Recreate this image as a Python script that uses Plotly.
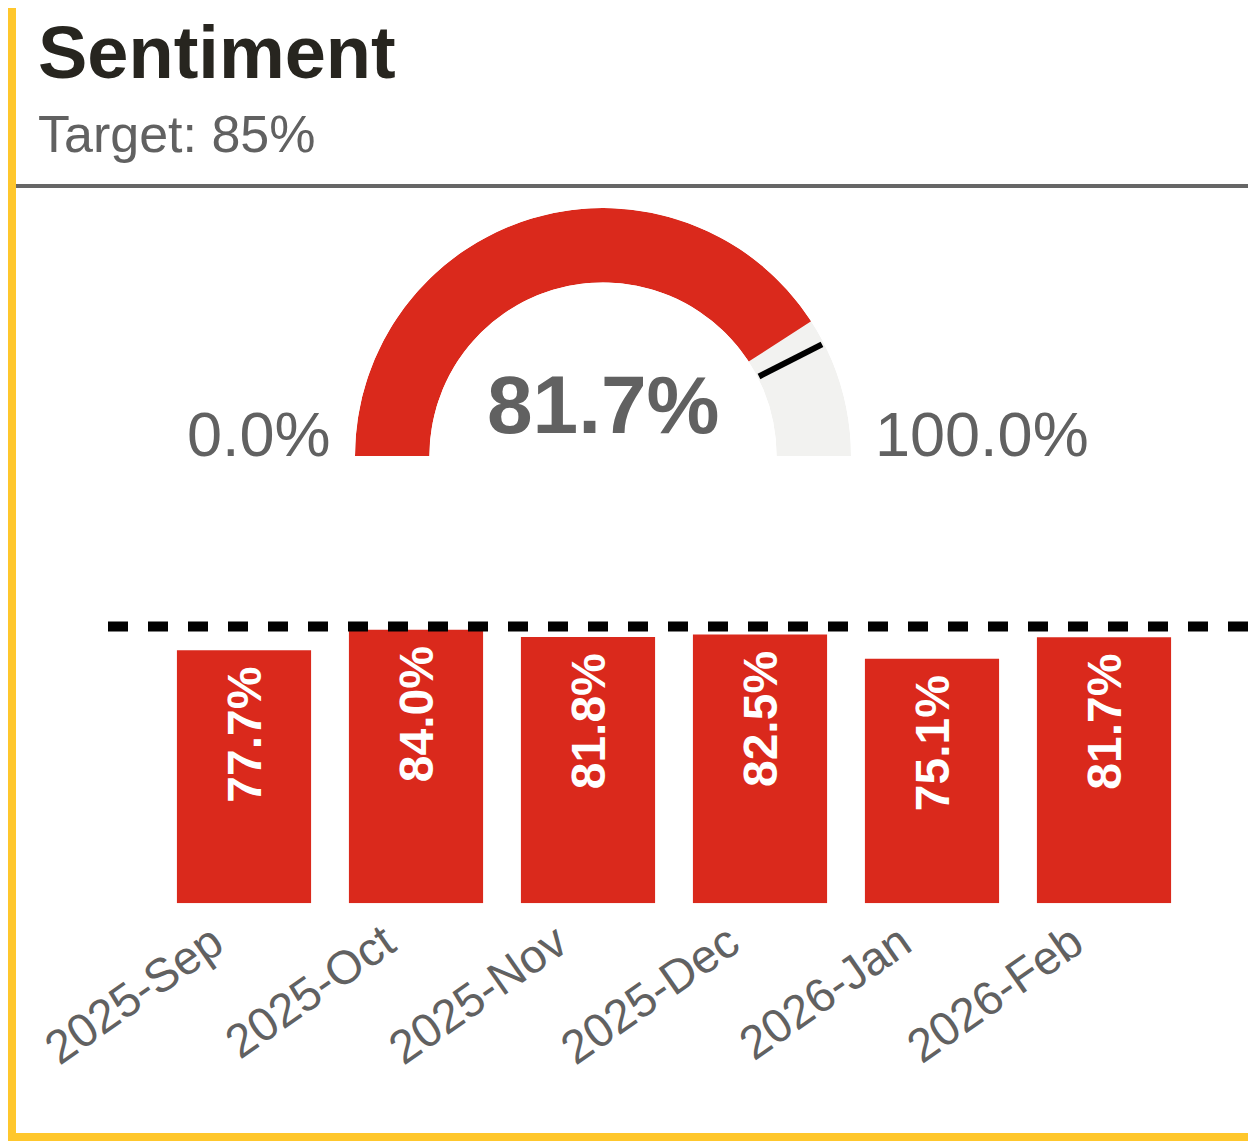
import plotly.graph_objects as go

# ---- data ----
months = ["2025-Sep", "2025-Oct", "2025-Nov", "2025-Dec", "2026-Jan", "2026-Feb"]
sentiment = [77.7, 84.0, 81.8, 82.5, 75.1, 81.7]
target = 85
gauge_min = 0
gauge_max = 100
title_text = "Sentiment"
subtitle_text = f"Target: {target}%"

# ---- style ----
OFF = 8  # page body margin
W, H = 1256 - OFF, 1141 - OFF
RED = "#DA291C"
YELLOW = "#FFC72C"
DARK = "#27251F"
GREY = "#616161"
GAUGE_BG = "#F2F2F0"
FONT = "Liberation Sans, Arial, sans-serif"


def px(x):
    return (x - OFF) / W


def py(y):
    return 1 - (y - OFF) / H


current = sentiment[-1]
span = gauge_max - gauge_min
deg_per_unit = 180.0 / span

fig = go.Figure()

# gauge background (full half ring)
fig.add_trace(go.Barpolar(
    r=[1], theta=[90], width=[180], base=0,
    marker=dict(color=GAUGE_BG, line=dict(width=0)),
    hoverinfo="skip", showlegend=False, subplot="polar",
))
# gauge value
val_deg = (current - gauge_min) * deg_per_unit
fig.add_trace(go.Barpolar(
    r=[1], theta=[val_deg / 2], width=[val_deg], base=0,
    marker=dict(color=RED, line=dict(width=0)),
    hoverinfo="skip", showlegend=False, subplot="polar",
))
# threshold marker
thr_deg = (target - gauge_min) * deg_per_unit
fig.add_trace(go.Scatterpolar(
    r=[0.02, 0.97], theta=[thr_deg, thr_deg], mode="lines",
    line=dict(color="black", width=6),
    hoverinfo="skip", showlegend=False, subplot="polar",
))

# monthly bars
fig.add_trace(go.Bar(
    x=months, y=sentiment,
    marker=dict(color=RED, line=dict(width=0)),
    width=0.78,
    texttemplate="%{y:.1f}%\u00a0",
    textposition="inside",
    insidetextanchor="end",
    textangle=-90,
    textfont=dict(family=FONT, size=48, color="white", weight="bold"),
    showlegend=False,
    hoverinfo="skip",
))

fig.update_layout(
    width=W, height=H,
    margin=dict(l=0, r=0, t=0, b=0, autoexpand=False),
    paper_bgcolor="white",
    plot_bgcolor="white",
    font=dict(family=FONT, color=GREY),
    polar=dict(
        domain=dict(x=[px(355), px(851)], y=[py(456), py(208)]),
        sector=[0, 180],
        hole=0.70,
        bgcolor="rgba(0,0,0,0)",
        angularaxis=dict(rotation=180, direction="clockwise", showline=False,
                         showgrid=False, showticklabels=False, ticks=""),
        radialaxis=dict(range=[0, 1], showline=False, showgrid=False,
                        showticklabels=False, ticks=""),
    ),
    xaxis=dict(
        domain=[px(158), px(1190)],
        range=[-0.5, len(months) - 0.5],
        tickangle=-35,
        tickfont=dict(family=FONT, size=47, color=GREY),
        ticklabelshift=-31,
        ticklabelstandoff=2,
        showline=False, showgrid=False, zeroline=False, ticks="",
        automargin=False,
        fixedrange=True,
    ),
    yaxis=dict(
        domain=[py(903.3), py(903.3 - 90 * 3.257)],
        range=[0, 90],
        showticklabels=False, showline=False, showgrid=False, zeroline=False,
        automargin=False,
        fixedrange=True,
    ),
)

# target line
fig.add_shape(type="line", xref="paper", yref="y",
              x0=px(108), x1=1.05, y0=target, y1=target,
              line=dict(color="black", width=10, dash="20px,20px"))

# header rule
fig.add_shape(type="line", xref="paper", yref="paper",
              x0=px(16), x1=1.0, y0=py(186), y1=py(186),
              line=dict(color="#666666", width=4))

# yellow card border (left and bottom)
fig.add_shape(type="rect", xref="paper", yref="paper",
              x0=-0.01, x1=px(16), y0=-0.01, y1=1.01,
              line=dict(width=0), fillcolor=YELLOW, layer="above")
fig.add_shape(type="rect", xref="paper", yref="paper",
              x0=-0.01, x1=1.01, y0=-0.01, y1=py(1133),
              line=dict(width=0), fillcolor=YELLOW, layer="above")

# header texts
fig.add_annotation(text=f"<b>{title_text}</b>", xref="paper", yref="paper",
                   x=px(36), y=py(53), xanchor="left", yanchor="middle",
                   showarrow=False, font=dict(family=FONT, size=74, color=DARK))
fig.add_annotation(text=subtitle_text, xref="paper", yref="paper",
                   x=px(36), y=py(134), xanchor="left", yanchor="middle",
                   showarrow=False, font=dict(family=FONT, size=52, color=GREY))

# gauge texts
fig.add_annotation(text=f"<b>{current:.1f}%</b>", xref="paper", yref="paper",
                   x=px(603), y=py(405), xanchor="center", yanchor="middle",
                   showarrow=False, font=dict(family=FONT, size=82, color=GREY))
fig.add_annotation(text=f"{gauge_min:.1f}%", xref="paper", yref="paper",
                   x=px(333), y=py(434), xanchor="right", yanchor="middle",
                   showarrow=False, font=dict(family=FONT, size=63, color=GREY))
fig.add_annotation(text=f"{gauge_max:.1f}%", xref="paper", yref="paper",
                   x=px(873), y=py(434), xanchor="left", yanchor="middle",
                   showarrow=False, font=dict(family=FONT, size=63, color=GREY))

fig.write_html("out.html")
